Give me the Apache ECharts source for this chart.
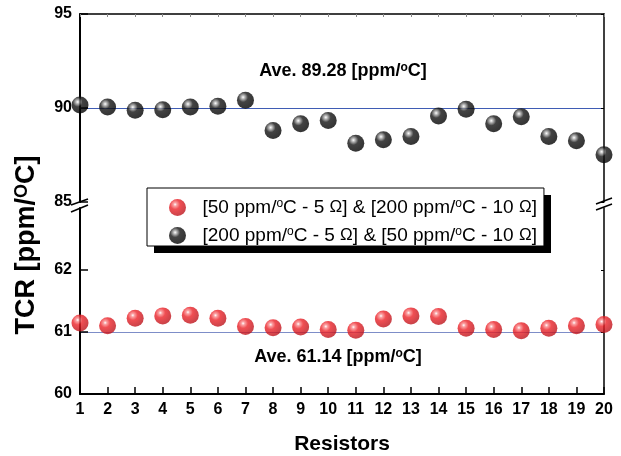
<!DOCTYPE html>
<html>
<head>
<meta charset="utf-8">
<script src="https://cdn.jsdelivr.net/npm/echarts@6/dist/echarts.min.js"></script>
<style>
  html, body { margin: 0; padding: 0; background: #fff; }
  #chart { width: 621px; height: 456px; }
</style>
</head>
<body>
<div id="chart"></div>
<script>
// 数据
const resistorNo = [1, 2, 3, 4, 5, 6, 7, 8, 9, 10, 11, 12, 13, 14, 15, 16, 17, 18, 19, 20]
// [200 ppm/oC - 5 Ω] & [50 ppm/oC - 10 Ω]
const tcrBlack = [90.16, 90.05, 89.88, 89.91, 90.05, 90.09, 90.41, 88.80, 89.16, 89.34,
  88.13, 88.31, 88.49, 89.57, 89.93, 89.16, 89.53, 88.49, 88.26, 87.51]
// [50 ppm/oC - 5 Ω] & [200 ppm/oC - 10 Ω]
const tcrRed = [61.145, 61.10, 61.22, 61.26, 61.27, 61.22, 61.09, 61.07, 61.08, 61.04,
  61.03, 61.21, 61.26, 61.25, 61.06, 61.04, 61.02, 61.06, 61.10, 61.12]
const upperTicks = [85, 90, 95]
const lowerTicks = [60, 61, 62]
const seriesNames = ['red', 'black']
const legendLabels = {
  red: '[50 ppm/{s|o}C - 5 {w|Ω}] & [200 ppm/{s|o}C - 10 {w|Ω}]',
  black: '[200 ppm/{s|o}C - 5 {w|Ω}] & [50 ppm/{s|o}C - 10 {w|Ω}]'
}

const FONT = '"Liberation Sans", Arial, sans-serif'

// 球形渐变
const ball = (light, mid, dark) => ({
  type: 'radial', x: 0.36, y: 0.32, r: 0.72,
  colorStops: [
    { offset: 0, color: '#ffffff' },
    { offset: 0.14, color: light },
    { offset: 0.4, color: mid },
    { offset: 1, color: dark }
  ]
})

const xBase = {
  type: 'value', min: 1, max: 20, interval: 1,
  splitLine: { show: false }
}

const yLeft = (gi, min, max, interval, ticks, lineColor) => ({
  type: 'value', gridIndex: gi, min, max, interval, position: 'left',
  axisLine: { show: true, lineStyle: { color: '#000', width: 2 } },
  axisTick: { show: true, inside: true, length: 8, customValues: ticks, lineStyle: { color: '#000', width: 1.5 } },
  axisLabel: {
    show: true, customValues: ticks, margin: 8,
    color: '#000', fontFamily: FONT, fontWeight: 'bold', fontSize: 16
  },
  splitLine: { show: true, showMinLine: false, showMaxLine: false, lineStyle: { color: lineColor, width: 1 } }
})

const yRight = (gi, min, max, interval, ticks) => ({
  type: 'value', gridIndex: gi, min, max, interval, position: 'right',
  axisLine: { show: true, onZero: false, lineStyle: { color: '#000', width: 1.5 } },
  axisTick: { show: true, inside: true, length: 3, customValues: ticks, lineStyle: { color: '#000' } },
  axisLabel: { show: false },
  splitLine: { show: false }
})

const supStyle = size => ({ fontSize: size, fontWeight: 'bold', fontFamily: FONT, verticalAlign: 'top', lineHeight: size })

const option = {
  backgroundColor: '#fff',
  animation: false,
  grid: [
    { left: 80, top: 14, width: 524, height: 188 },
    { left: 80, top: 208, width: 524, height: 188 }
  ],
  xAxis: [
    {
      ...xBase, gridIndex: 0, position: 'top',
      axisLine: { show: true, onZero: false, lineStyle: { color: '#000', width: 1.5 } },
      axisTick: { show: true, inside: true, length: 3, lineStyle: { color: '#888' } },
      axisLabel: { show: false }
    },
    {
      ...xBase, gridIndex: 1, position: 'bottom',
      name: 'Resistors', nameLocation: 'middle', nameGap: 40,
      nameTextStyle: { color: '#000', fontFamily: FONT, fontWeight: 'bold', fontSize: 21 },
      axisLine: { show: true, onZero: false, lineStyle: { color: '#000', width: 2 } },
      axisTick: { show: true, inside: true, length: 7, lineStyle: { color: '#000', width: 1.5 } },
      axisLabel: { color: '#000', fontFamily: FONT, fontWeight: 'bold', fontSize: 16, margin: 8 }
    }
  ],
  yAxis: [
    yLeft(0, 85, 95, 5, upperTicks, '#3f5cb4'),
    yRight(0, 85, 95, 5, upperTicks),
    yLeft(1, 60, 63, 1, lowerTicks, '#7d8dc8'),
    yRight(1, 60, 63, 1, lowerTicks)
  ],
  legend: {
    data: seriesNames,
    orient: 'vertical',
    left: 147, top: 188,
    padding: [10, 7, 1, 22],
    itemWidth: 40, itemHeight: 17, itemGap: 9,
    icon: 'circle',
    backgroundColor: '#fff',
    borderColor: '#000', borderWidth: 1,
    formatter: name => legendLabels[name],
    textStyle: {
      color: '#000', fontFamily: FONT, fontSize: 19, lineHeight: 19,
      rich: {
        s: { fontSize: 12, fontFamily: FONT, verticalAlign: 'top', lineHeight: 12 },
        w: { fontSize: 17, fontFamily: FONT }
      }
    }
  },
  graphic: [
    // 图例阴影
    { type: 'rect', z: 1, shape: { x: 154, y: 195, width: 397, height: 58 }, style: { fill: '#000' } },
    {
      type: 'text', x: 27, y: 245, rotation: Math.PI / 2,
      style: {
        text: 'TCR [ppm/{s|O}C]', align: 'center', verticalAlign: 'middle',
        fill: '#000', font: 'bold 27px ' + FONT,
        rich: { s: supStyle(18) }
      }
    },
    {
      type: 'text', x: 343, y: 71,
      style: {
        text: 'Ave. 89.28 [ppm/{s|o}C]', align: 'center', verticalAlign: 'middle',
        fill: '#000', font: 'bold 18px ' + FONT,
        rich: { s: supStyle(12) }
      }
    },
    {
      type: 'text', x: 338, y: 357,
      style: {
        text: 'Ave. 61.14 [ppm/{s|o}C]', align: 'center', verticalAlign: 'middle',
        fill: '#000', font: 'bold 18px ' + FONT,
        rich: { s: supStyle(12) }
      }
    },
    // 断轴标记
    { type: 'line', shape: { x1: 71, y1: 205, x2: 88, y2: 199 }, style: { stroke: '#000', lineWidth: 1.5 } },
    { type: 'line', shape: { x1: 71, y1: 212, x2: 88, y2: 205 }, style: { stroke: '#000', lineWidth: 1.5 } },
    { type: 'line', shape: { x1: 596, y1: 204, x2: 612, y2: 198 }, style: { stroke: '#000', lineWidth: 1.5 } },
    { type: 'line', shape: { x1: 596, y1: 210, x2: 612, y2: 204 }, style: { stroke: '#000', lineWidth: 1.5 } }
  ],
  series: [
    {
      name: 'red', type: 'scatter', xAxisIndex: 1, yAxisIndex: 2,
      symbolSize: 17, clip: true,
      itemStyle: { color: ball('#f98a8c', '#ec2228', '#b8121a') },
      data: resistorNo.map((x, i) => [x, tcrRed[i]])
    },
    {
      name: 'black', type: 'scatter', xAxisIndex: 0, yAxisIndex: 0,
      symbolSize: 17, clip: true,
      itemStyle: { color: ball('#a8a8a8', '#141414', '#000') },
      data: resistorNo.map((x, i) => [x, tcrBlack[i]])
    }
  ]
}

const chart = echarts.init(document.getElementById('chart'))
chart.setOption(option)
</script>
</body>
</html>
